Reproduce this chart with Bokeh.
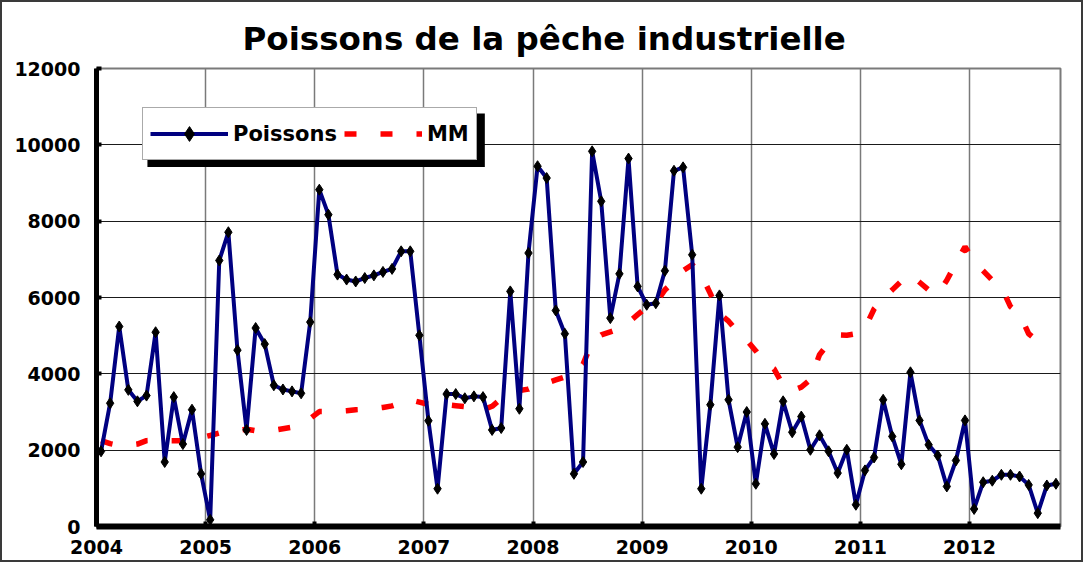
import math
from bokeh.plotting import figure
from bokeh.models import (Range1d, FixedTicker, ColumnDataSource, Legend, LegendItem,
                          BoxAnnotation)
from bokeh.embed import file_html
from bokeh.resources import INLINE

# ---------------- data ----------------
years = ["2004", "2005", "2006", "2007", "2008", "2009", "2010", "2011", "2012"]
poissons = [
    1970, 3230, 5240, 3580, 3280, 3430, 5090, 1690, 3390, 2160, 3060, 1380,   # 2004
    175, 6970, 7710, 4620, 2530, 5200, 4780, 3700, 3590, 3540, 3490, 5355,    # 2005
    8825, 8170, 6600, 6470, 6420, 6510, 6580, 6670, 6750, 7210, 7210, 5010,   # 2006
    2770, 990, 3470, 3470, 3360, 3410, 3390, 2530, 2580, 6160, 3085, 7165,    # 2007
    9440, 9130, 5660, 5050, 1380, 1690, 9830, 8520, 5460, 6620, 9640, 6290,   # 2008
    5810, 5850, 6700, 9320, 9410, 7120, 990, 3190, 6055, 3320, 2080, 3000,    # 2009
    1120, 2690, 1900, 3280, 2470, 2880, 2010, 2390, 1970, 1400, 2010, 570,    # 2010
    1470, 1810, 3320, 2360, 1630, 4040, 2780, 2140, 1860, 1050, 1730, 2780,   # 2011
    460, 1160, 1200, 1355, 1355, 1310, 1090, 350, 1075, 1120,                 # 2012
]
mm = [
    2250, 2170, 2120, 2130, 2160, 2250, 2260, 2250, 2250, 2250, 2280, 2330,
    2385, 2450, 2480, 2520, 2550, 2510, 2510, 2520, 2560, 2600, 2720, 2830,
    3010, 3010, 3020, 3035, 3060, 3070, 3090, 3120, 3160, 3240, 3320, 3260,
    3200, 3195, 3190, 3165, 3140, 3100, 3060, 3150, 3350, 3565, 3565, 3600,
    3700, 3760, 3840, 3920, 4020, 4250, 4840, 5020, 5100, 5180, 5350, 5550,
    5750, 5850, 6200, 6420, 6700, 6860, 6600, 6100, 5580, 5380, 5100, 4880,
    4600, 4280, 4130, 3700, 3560, 3650, 3850, 4500, 4800, 5020, 5010, 5050,
    5200, 5700, 5980, 6200, 6430, 6600, 6400, 6200, 6080, 6450, 6900, 7330,
    6950, 6700, 6450, 6270, 5760, 5570, 5050, 4860,
]
y_ticks = [0, 2000, 4000, 6000, 8000, 10000, 12000]

n = len(poissons)
xs = [i + 0.5 for i in range(n)]
mm_full = mm + [float("nan")] * (n - len(mm))
src = ColumnDataSource(dict(x=xs, p=poissons, mm=mm_full))

FONT = "DejaVu Sans"

p = figure(width=1083, height=562, output_backend="svg", toolbar_location=None,
           x_range=Range1d(0, n), y_range=Range1d(0, 12000),
           min_border_left=94, min_border_top=66, min_border_right=25, min_border_bottom=38,
           background_fill_color="white", border_fill_color="white")
p.styles = {"border": "2px solid #3a3a3a", "box-sizing": "border-box"}

# title
p.title.text = "Poissons de la pêche industrielle"
p.title.align = "left"
p.title.text_font = FONT
p.title.text_font_style = "bold"
p.title.text_font_size = "32.5px"
p.title.text_color = "black"
p.title.offset = 146
p.title.standoff = 21

# grids
year_ticks = [12 * k for k in range(len(years))]
p.xaxis.ticker = FixedTicker(ticks=year_ticks)
p.xaxis.major_label_overrides = {12 * k: y for k, y in enumerate(years)}
p.yaxis.ticker = FixedTicker(ticks=y_ticks)
p.xgrid.grid_line_color = "#7a7a7a"
p.xgrid.grid_line_width = 1.5
p.ygrid.grid_line_color = "#1a1a1a"
p.ygrid.grid_line_width = 1
p.outline_line_color = "#7a7a7a"
p.outline_line_width = 2

for ax in (p.xaxis, p.yaxis):
    ax.axis_line_color = "black"
    ax.major_tick_line_color = "black"
    ax.major_tick_in = 5
    ax.major_tick_out = 0
    ax.major_tick_line_width = 4
    ax.minor_tick_line_color = None
    ax.major_label_text_font = FONT
    ax.major_label_text_font_style = "bold"
    ax.major_label_text_font_size = "19px"
    ax.major_label_text_color = "black"
p.xaxis.axis_line_width = 6
p.yaxis.axis_line_width = 5
p.xaxis.major_label_standoff = 13
p.yaxis.major_label_standoff = 16
p.yaxis.formatter.use_scientific = False

# series
mm_r = p.line("x", "mm", source=src, line_color="#ff0000", line_width=5.5,
              line_dash="12 24")
ln_r = p.line("x", "p", source=src, line_color="#000080", line_width=4)
mk_r = p.scatter("x", "p", source=src, marker="diamond", size=11,
                 fill_color="black", line_color="black")

# legend drop shadow (decoration behind the legend box)
shadow = BoxAnnotation(left=5.6, right=42.7, top=10820, bottom=9420,
                       fill_color="black", fill_alpha=1.0, line_color=None,
                       level="underlay")
p.add_layout(shadow)

legend = Legend(items=[LegendItem(label="Poissons", renderers=[ln_r, mk_r]),
                       LegendItem(label="MM", renderers=[mm_r])],
                orientation="horizontal", location=(46, 366),
                glyph_width=78, glyph_height=37, padding=7, spacing=7,
                label_standoff=5,
                label_text_font=FONT, label_text_font_style="bold",
                label_text_font_size="21px", label_text_color="black",
                border_line_color="#555555", border_line_width=1,
                background_fill_color="white", background_fill_alpha=1.0)
p.add_layout(legend, "center")

open("out.html", "w").write(file_html(p, INLINE))
